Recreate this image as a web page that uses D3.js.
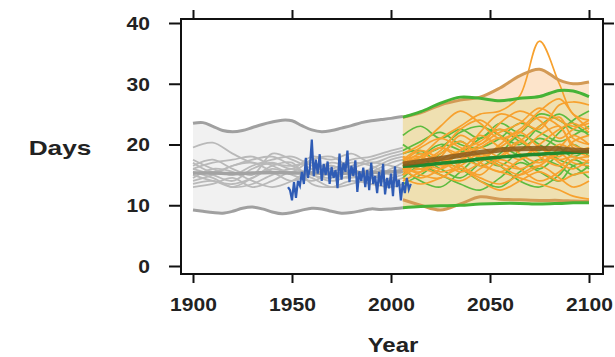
<!DOCTYPE html>
<html>
<head>
<meta charset="utf-8">
<script src="https://cdn.jsdelivr.net/npm/d3@7"></script>
<style>
  body { margin: 0; background: #fff; }
  text { font-family: "Liberation Sans", Arial, sans-serif; font-weight: bold; fill: #222; }
</style>
</head>
<body>
<div id="chart"></div>
<script>
// historical envelope (5 year steps)
var histEnvYears = [1900,1905,1910,1915,1920,1925,1930,1935,1940,1945,1950,1955,1960,1965,1970,1975,1980,1985,1990,1995,2000,2006];
var histUpper = [23.5,23.6,23.0,22.3,22.1,22.3,22.8,23.3,23.7,24.0,23.9,23.1,22.4,22.1,22.3,22.7,23.1,23.6,23.9,24.1,24.3,24.6];
var histLower = [9.2,9.0,8.8,8.7,9.0,9.5,9.7,9.4,8.9,8.6,8.8,9.2,9.5,9.4,9.0,8.7,8.8,9.1,9.4,9.3,9.4,9.6];

// historical model runs (grey)
var histYears = [1900,1910,1920,1930,1940,1950,1960,1970,1980,1990,2000,2006];
var histMean = [15.3,15.3,15.2,15.3,15.4,15.3,15.3,15.2,15.3,15.4,15.5,15.6];
var histModels = [
  [19.5,20.3,18.5,17.0,16.8,16.5,17.0,16.0,17.5,18.0,19.0,19.5],
  [15.0,14.0,13.5,14.5,16.0,15.0,14.0,15.5,16.5,17.5,18.5,19.0],
  [16.5,17.5,16.0,15.0,18.5,17.5,16.0,15.0,14.5,15.5,17.0,17.5],
  [14.0,15.0,16.5,17.0,15.5,14.0,15.5,17.0,16.0,14.5,15.5,16.0],
  [17.5,16.0,15.0,16.5,17.5,18.0,16.5,15.5,17.0,16.5,15.0,15.5],
  [13.0,13.5,14.5,13.0,14.0,15.5,14.5,13.0,13.5,14.5,16.0,17.0],
  [16.0,17.0,17.5,18.0,16.5,15.5,17.5,18.0,16.0,15.0,14.0,14.5],
  [15.5,14.5,13.0,13.5,15.0,16.0,15.0,14.0,15.0,16.0,17.5,18.0],
  [14.5,16.0,15.5,14.0,13.0,14.0,16.0,16.5,15.0,13.5,14.5,15.0],
  [17.0,15.5,16.5,17.5,18.0,16.5,15.0,14.5,16.0,17.0,16.5,16.0],
  [13.5,14.0,13.0,14.5,16.5,17.0,13.5,13.0,14.0,13.5,13.0,13.5],
  [16.0,15.0,14.0,16.0,17.0,16.0,18.0,17.5,18.5,17.0,18.0,18.5]
];

// observations (blue)
var obsYears = d3.range(1948, 2011);
var obsValues = [13.0,12.5,10.8,13.8,11.2,14.0,13.2,15.5,13.5,17.8,14.5,16.0,20.8,14.8,17.5,15.2,18.4,14.0,16.8,15.0,
  17.2,13.5,16.3,14.5,15.8,12.8,18.5,14.2,17.0,15.5,19.0,13.8,16.5,14.8,17.4,12.2,15.6,14.0,16.2,13.0,
  15.8,12.5,17.0,13.5,14.8,12.0,15.5,13.2,16.8,11.8,14.5,12.8,15.2,11.5,16.4,13.0,14.2,10.8,13.8,12.0,
  14.5,12.6,13.5];

// projections
var futureYears = [2006,2015,2025,2035,2045,2055,2065,2075,2085,2092,2100];
var orangeUpper = [24.5,25.2,26.5,27.3,27.8,29.3,31.3,32.4,30.6,30.0,30.3];
var orangeLower = [10.9,10.0,9.2,10.2,11.4,11.0,10.9,10.8,10.8,10.7,10.6];
var greenUpper = [24.5,25.4,26.8,27.8,27.6,27.2,27.6,27.9,28.9,28.8,27.9];
var greenLower = [9.6,9.8,9.9,10.0,10.2,10.3,10.3,10.2,10.3,10.4,10.4];
var orangeMean = [16.8,17.2,17.7,18.2,18.7,19.1,19.3,19.4,19.3,19.1,19.0];
var greenMean = [16.4,16.6,16.9,17.2,17.6,17.9,18.2,18.4,18.6,18.7,18.8];

var greenModels = [
  [21.5,23.0,21.0,22.5,21.0,23.5,22.0,25.0,24.0,22.5,22.0],
  [19.0,20.5,22.0,20.0,19.5,21.0,23.5,22.0,20.5,21.5,23.0],
  [17.5,16.0,18.5,20.5,18.0,16.5,19.0,21.0,19.5,18.0,19.5],
  [15.0,17.5,16.0,14.5,17.0,19.5,18.0,16.0,18.5,20.0,18.0],
  [13.5,15.0,17.0,16.0,14.0,13.0,15.5,17.5,16.5,15.0,16.5],
  [16.0,14.0,13.0,15.5,18.0,16.5,14.0,13.0,15.0,17.5,16.0],
  [18.5,19.0,17.0,18.5,21.0,22.5,20.5,19.0,22.0,24.0,25.5],
  [14.5,16.5,15.0,13.5,12.5,14.5,17.0,15.5,14.0,16.5,17.0],
  [20.0,18.5,19.5,22.0,23.0,21.5,20.0,23.0,25.0,23.5,21.5],
  [16.5,18.0,20.0,19.0,16.5,18.5,21.5,20.0,17.5,16.5,14.5]
];
var orangeModels = [
  [16.0,18.0,21.0,23.0,25.0,25.5,28.0,37.0,30.0,25.0,24.0],
  [15.0,17.5,19.5,18.0,22.0,25.0,24.0,22.5,26.5,27.0,26.5],
  [18.0,16.5,18.0,21.5,20.0,23.5,25.5,24.0,21.0,22.5,24.0],
  [16.5,15.0,14.5,17.0,19.5,18.0,20.5,23.0,24.5,21.0,20.0],
  [17.0,19.0,17.5,15.5,17.0,20.0,22.0,19.5,18.0,20.5,21.5],
  [15.5,17.0,19.0,22.5,24.0,21.5,19.0,21.5,23.0,19.5,18.5],
  [16.0,14.5,16.0,18.5,17.0,15.5,17.5,19.5,17.0,16.0,17.5],
  [17.5,18.0,16.5,17.5,19.5,21.0,18.5,17.0,19.5,21.5,20.0],
  [14.0,15.5,17.5,16.5,15.0,17.5,16.0,14.0,15.5,17.5,18.0],
  [18.5,20.0,23.0,25.5,23.5,21.0,22.5,25.5,27.5,25.0,22.5],
  [16.0,17.0,18.5,20.5,18.0,16.5,15.0,16.5,18.5,17.0,16.5],
  [15.0,16.0,15.0,14.0,16.0,18.0,20.5,18.0,16.5,18.5,19.5],
  [17.0,16.0,17.0,16.0,14.5,13.5,15.0,16.5,14.5,13.0,14.0],
  [16.5,18.5,17.0,19.0,21.5,19.5,17.5,20.0,22.5,23.5,22.0],
  [16.0,17.0,16.0,17.5,16.5,15.5,14.5,13.5,12.5,11.5,11.0],
  [17.5,19.5,21.0,19.5,18.0,19.5,22.0,24.5,23.0,20.0,19.0],
  [16.0,15.5,17.5,19.0,20.5,22.5,21.0,18.5,17.5,18.0,17.0],
  [18.0,17.0,15.5,16.5,18.5,17.0,16.0,17.5,20.0,19.0,18.0],
  [14.5,13.5,14.5,16.0,14.0,12.5,14.0,15.5,14.0,15.0,15.5],
  [17.0,18.0,19.5,18.5,20.0,22.0,23.5,26.0,24.0,23.0,23.5]
];

var xTicks = [1900, 1950, 2000, 2050, 2100];
var yTicks = [0, 10, 20, 30, 40];

var width = 615, height = 357;
var x = d3.scaleLinear().domain([1900, 2100]).range([193, 589]);
var y = d3.scaleLinear().domain([0, 40]).range([266, 23]);
var box = {l: 181, r: 603, t: 19, b: 274};

var svg = d3.select("#chart").append("svg")
  .attr("width", width)
  .attr("height", height);

var curve = d3.curveCatmullRom.alpha(0.5);

function zip(years, vals) {
  return years.map(function(yr, i) { return [yr, vals[i]]; });
}

function band(years, lo, hi, fill) {
  var area = d3.area()
    .x(function(d) { return x(d[0]); })
    .y0(function(d) { return y(d[1]); })
    .y1(function(d) { return y(d[2]); })
    .curve(curve);
  var pts = years.map(function(yr, i) { return [yr, lo[i], hi[i]]; });
  svg.append("path").attr("d", area(pts)).attr("fill", fill);
}

function drawLine(years, vals, color, w, op) {
  var line = d3.line()
    .x(function(d) { return x(d[0]); })
    .y(function(d) { return y(d[1]); })
    .curve(curve);
  svg.append("path")
    .attr("d", line(zip(years, vals)))
    .attr("fill", "none")
    .attr("stroke", color)
    .attr("stroke-width", w)
    .attr("stroke-opacity", op == null ? 1 : op)
    .attr("stroke-linejoin", "round");
}

// bands
band(histEnvYears, histLower, histUpper, "#f1f1f1");
band(futureYears, orangeLower, orangeUpper, "#fde4ca");
band(futureYears, greenLower, greenUpper, "#efe0b1");

// historical runs
histModels.forEach(function(m) { drawLine(histYears, m, "#b9b9b9", 1.8); });
drawLine(histYears, histMean, "#a3a3a3", 3.5);
drawLine(histEnvYears, histUpper, "#a0a0a0", 3);
drawLine(histEnvYears, histLower, "#a0a0a0", 3);

// future runs
greenModels.forEach(function(m) { drawLine(futureYears, m, "#5dbb3f", 1.7); });
orangeModels.forEach(function(m) { drawLine(futureYears, m, "#f7a12e", 1.7); });

drawLine(futureYears, orangeUpper, "#d39a55", 3);
drawLine(futureYears, orangeLower, "#d39a55", 3);
drawLine(futureYears, greenUpper, "#45b336", 3);
drawLine(futureYears, greenLower, "#45b336", 3);
drawLine(futureYears, greenMean, "#1f8a2e", 3.5);
drawLine(futureYears, orangeMean, "#8a5a1c", 5, 0.85);

// observations
var obsLine = d3.line()
  .x(function(d) { return x(d[0]); })
  .y(function(d) { return y(d[1]); });
svg.append("path")
  .attr("d", obsLine(zip(obsYears, obsValues)))
  .attr("fill", "none")
  .attr("stroke", "#2f5cb5")
  .attr("stroke-width", 2.2);

// frame
svg.append("rect")
  .attr("x", box.l).attr("y", box.t)
  .attr("width", box.r - box.l).attr("height", box.b - box.t)
  .attr("fill", "none").attr("stroke", "#111").attr("stroke-width", 2);

// axes
var xb = svg.append("g").attr("transform", "translate(0," + box.b + ")")
  .call(d3.axisBottom(x).tickValues(xTicks).tickSize(9).tickPadding(15).tickFormat(d3.format("d")));
var xt = svg.append("g").attr("transform", "translate(0," + box.t + ")")
  .call(d3.axisTop(x).tickValues(xTicks).tickSize(9).tickFormat(""));
var yl = svg.append("g").attr("transform", "translate(" + box.l + ",0)")
  .call(d3.axisLeft(y).tickValues(yTicks).tickSize(12).tickPadding(19));
var yr = svg.append("g").attr("transform", "translate(" + box.r + ",0)")
  .call(d3.axisRight(y).tickValues(yTicks).tickSize(11).tickFormat(""));

[xb, xt, yl, yr].forEach(function(g) {
  g.select(".domain").remove();
  g.selectAll(".tick line").attr("stroke", "#111").attr("stroke-width", 2);
  g.selectAll("text")
    .style("font-family", "'Liberation Sans', Arial, sans-serif")
    .style("font-weight", "bold")
    .style("font-size", "18px")
    .attr("fill", "#222");
});
xb.selectAll("text").attr("transform", "scale(1.17,1)").attr("x", 0);
yl.selectAll("text").each(function() {
  d3.select(this).attr("transform", "translate(-31,0) scale(1.17,1)").attr("x", 0).attr("dy", "0.35em");
});

// axis titles
svg.append("text")
  .attr("transform", "translate(393,352) scale(1.2,1)")
  .attr("text-anchor", "middle")
  .style("font-size", "20px")
  .text("Year");
svg.append("text")
  .attr("transform", "translate(60,155) scale(1.25,1)")
  .attr("text-anchor", "middle")
  .style("font-size", "21px")
  .text("Days");
</script>
</body>
</html>
